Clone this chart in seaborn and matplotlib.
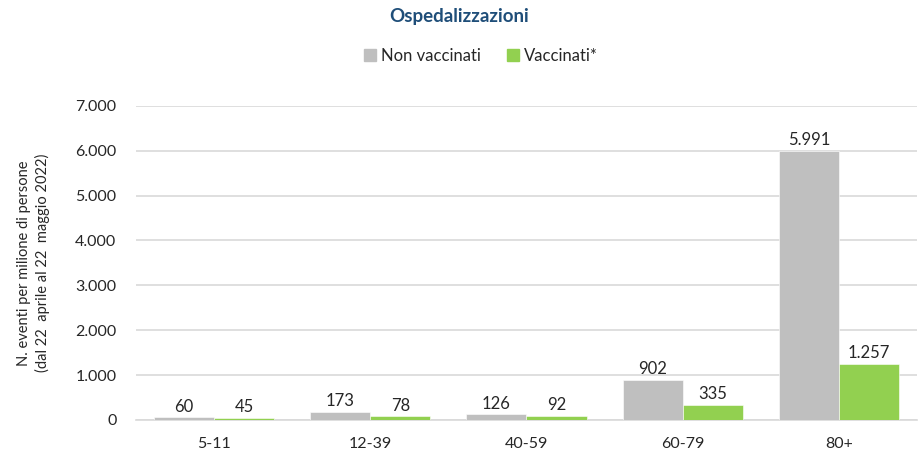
import pandas as pd
import numpy as np
import matplotlib
matplotlib.use("Agg")
import matplotlib.pyplot as plt
import seaborn as sns

# Dati
fasce_eta = ["5-11", "12-39", "40-59", "60-79", "80+"]
non_vaccinati = [60, 173, 126, 902, 5991]
vaccinati = [45, 78, 92, 335, 1257]
serie = ["Non vaccinati", "Vaccinati*"]
colori = ["#BFBFBF", "#92D050"]

df = pd.DataFrame({
    "fascia": fasce_eta * 2,
    "valore": non_vaccinati + vaccinati,
    "stato": [serie[0]] * len(fasce_eta) + [serie[1]] * len(fasce_eta),
})

sns.set_theme(style="white")
plt.rcParams["font.family"] = ["Lato", "DejaVu Sans"]


def fmt_it(v):
    # separatore delle migliaia all'italiana
    return f"{int(v):,}".replace(",", ".")


fig = plt.figure(figsize=(9.18, 4.58), dpi=100)
ax = fig.add_axes([0.148, 0.083, 0.851, 0.686])

sns.barplot(data=df, x="fascia", y="valore", hue="stato", palette=colori,
            width=0.77, saturation=1, ax=ax, legend=False, zorder=3,
            edgecolor="white", linewidth=0.4)

ax.set_ylim(0, 7000)
ax.set_yticks(np.arange(0, 7001, 1000))
ax.set_yticklabels([fmt_it(t) for t in np.arange(0, 7001, 1000)])
ax.yaxis.grid(True, color="#D9D9D9", linewidth=1.2, zorder=0)
ax.set_xlim(-0.5, len(fasce_eta) - 0.5)
for s in ["top", "right", "left"]:
    ax.spines[s].set_visible(False)
ax.spines["bottom"].set_color("#D9D9D9")
ax.spines["bottom"].set_linewidth(1.2)
ax.tick_params(axis="both", length=0, labelsize=11.5, colors="#262626")
ax.tick_params(axis="x", pad=12)
ax.tick_params(axis="y", pad=14)
ax.set_xlabel("")
ax.set_ylabel("N. eventi per milione di persone\n(dal 22  aprile al 22  maggio 2022)",
              fontsize=10.5, color="#262626", labelpad=18, linespacing=1.35)

# etichette sopra le barre
for cont in ax.containers:
    ax.bar_label(cont, labels=[fmt_it(v) for v in cont.datavalues],
                 padding=2, fontsize=12, color="#262626")

fig.text(0.5, 0.963, "Ospedalizzazioni", ha="center", va="center",
         fontsize=13.5, fontweight="bold", color="#1F4E79")

handles = [plt.Rectangle((0, 0), 1, 1, color=c) for c in colori]
fig.legend(handles, serie, loc="center", bbox_to_anchor=(0.524, 0.878), ncol=2,
           frameon=False, fontsize=12, handlelength=0.7, handleheight=0.7,
           handletextpad=0.3, columnspacing=1.6, labelcolor="#262626")

fig.savefig("out.png", dpi=100)
